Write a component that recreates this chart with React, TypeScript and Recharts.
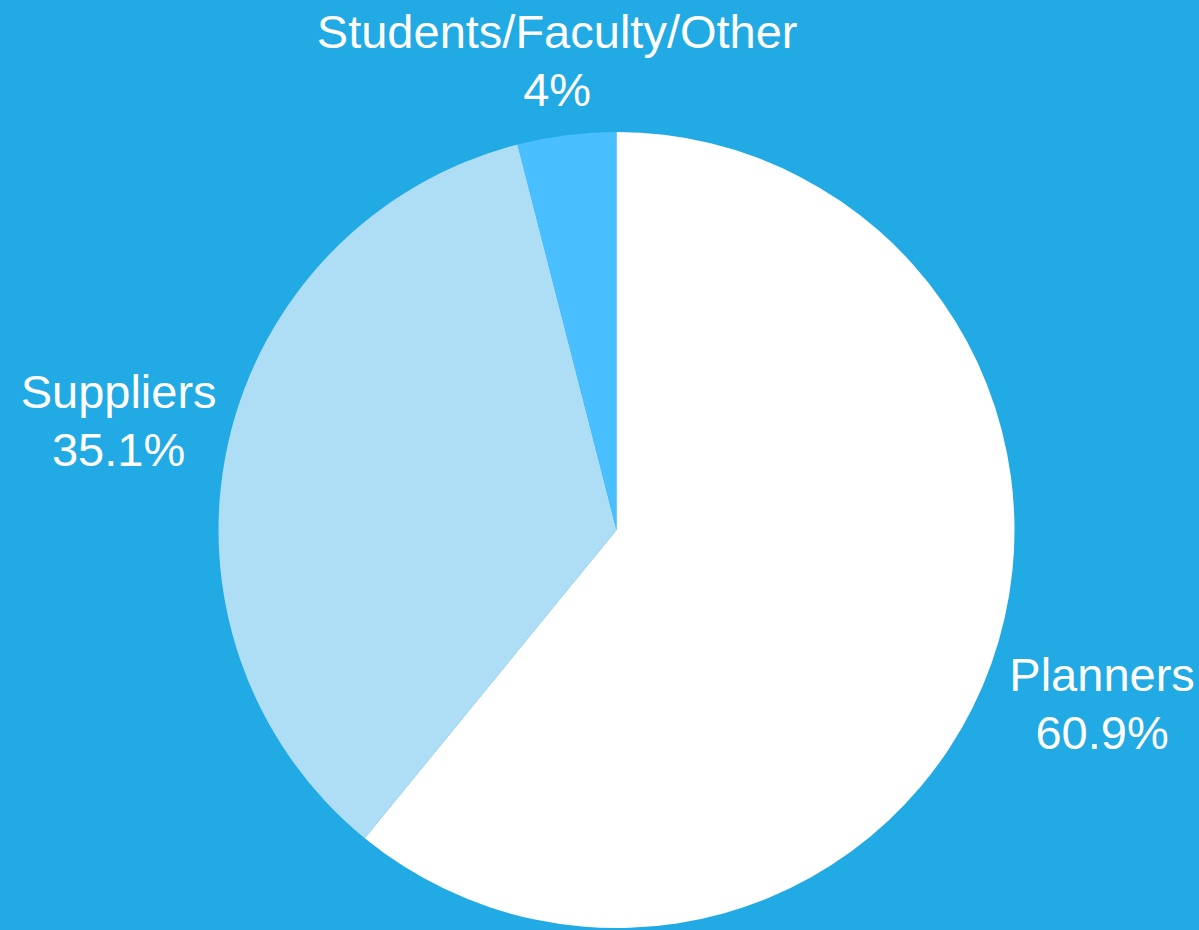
import React from "react";
import { PieChart, Pie, Cell } from "recharts";

const categories = ["Planners", "Suppliers", "Students/Faculty/Other"];
const shares = [60.9, 35.1, 4];
const colors = ["#FFFFFF", "#AEDDF6", "#4ABFFF"];

const data = categories.map((name, i) => ({ name, value: shares[i] }));

const FONT_SIZE = 47;
const LINE_GAP = 58;
const CAP = 34;
const RAD = Math.PI / 180;

const renderLabel = (props: any) => {
  const { cx, cy, midAngle, outerRadius, name, value } = props;
  const cos = Math.cos(-midAngle * RAD);
  const sin = Math.sin(-midAngle * RAD);
  const w = Math.max(String(name).length, 5) * FONT_SIZE * 0.47;
  const h = CAP + LINE_GAP;
  const ext = Math.min(
    Math.abs(cos) > 1e-6 ? w / 2 / Math.abs(cos) : Infinity,
    Math.abs(sin) > 1e-6 ? h / 2 / Math.abs(sin) : Infinity
  );
  const gap = 12 + 18 * Math.abs(sin) + 6 * cos;
  const d = outerRadius + gap + ext;
  const bx = cx + d * cos;
  const by = cy + d * sin;
  const b1 = by - h / 2 + CAP;
  return (
    <text
      x={bx}
      y={b1}
      textAnchor="middle"
      fill="#FFFFFF"
      fontSize={FONT_SIZE}
      fontFamily="'Liberation Sans', Arial, Helvetica, sans-serif"
    >
      <tspan x={bx} y={b1}>{name}</tspan>
      <tspan x={bx} y={b1 + LINE_GAP}>{`${value}%`}</tspan>
    </text>
  );
};

export default function App() {
  return (
    <div
      style={{
        position: "absolute",
        left: 0,
        top: 0,
        width: 1199,
        height: 930,
        background: "#21AAE4",
        overflow: "hidden",
      }}
    >
      <PieChart
        width={1199}
        height={930}
        margin={{ top: 0, right: 0, bottom: 0, left: 0 }}
      >
        <Pie
          data={data}
          dataKey="value"
          nameKey="name"
          cx={616.5}
          cy={530}
          outerRadius={398}
          startAngle={90}
          endAngle={-270}
          stroke="none"
          labelLine={false}
          label={renderLabel}
          isAnimationActive={false}
        >
          {data.map((d, i) => (
            <Cell key={d.name} fill={colors[i]} />
          ))}
        </Pie>
      </PieChart>
    </div>
  );
}
